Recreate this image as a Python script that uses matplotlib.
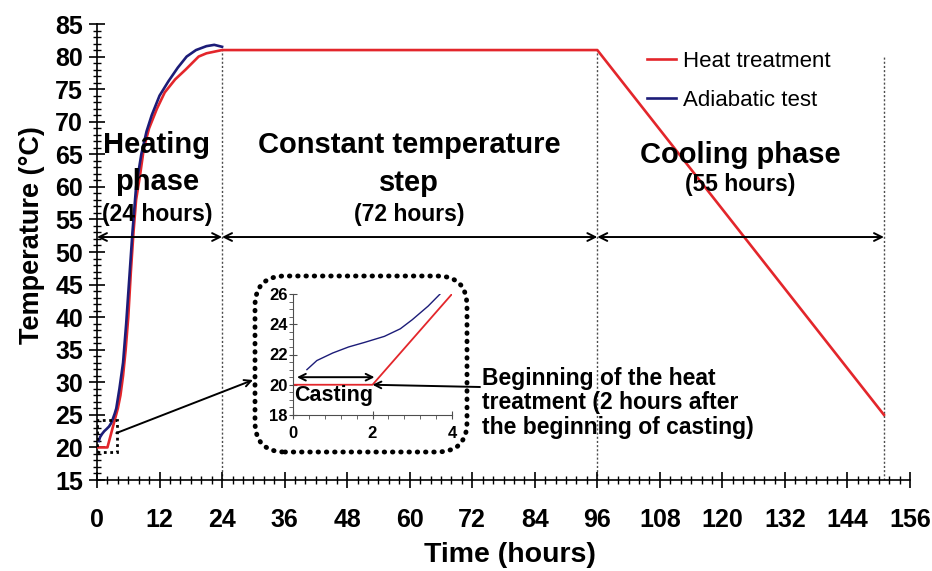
import numpy as np
import matplotlib
matplotlib.use("Agg")
import matplotlib.pyplot as plt
from matplotlib.patches import FancyBboxPatch, Rectangle
from matplotlib.ticker import MultipleLocator

plt.rcParams['font.family'] = ['Liberation Sans', 'DejaVu Sans']

# heat treatment curve (hours, degC)
heat_t = [0, 2, 4, 4.5, 5, 5.5, 6, 6.5, 7, 7.5, 8.3, 9, 10, 11.5, 13, 15, 17, 19.5, 21, 24, 96, 151]
heat_T = [20, 20, 26, 28, 31, 35, 40, 47, 53, 58, 62, 66, 69, 72, 74.5, 76.5, 78, 80, 80.5, 81, 81, 25]

# adiabatic test curve
adia_t = [0.35, 0.6, 1.0, 1.4, 1.8, 2.3, 2.7, 3.0, 3.4, 3.7, 4.3, 5.0, 5.6, 6.2, 6.8, 7.5, 8.5,
          9.5, 10.5, 12, 13.7, 15.5, 17.2, 19, 21, 22.5, 24]
adia_T = [21.0, 21.6, 22.1, 22.5, 22.8, 23.2, 23.7, 24.3, 25.2, 26.0, 29, 33, 39, 46, 53, 60, 65,
          68.5, 71, 74, 76.2, 78.3, 80, 81, 81.6, 81.8, 81.5]

phase_bounds = [0, 24, 96, 151]
bound_top = [81, 81, 80]
arrow_level = 52.3

red = '#e3262b'
blue = '#1c1c78'

fig = plt.figure(figsize=(9.32, 5.71), dpi=100)
ax = fig.add_axes([97/932, 1-480/571, 813/932, 456/571])

for x, top in zip(phase_bounds[1:], bound_top):
    ax.plot([x, x], [15, top], color='0.3', lw=1, ls=(0, (1.5, 1.5)), zorder=1)

ax.plot(heat_t, heat_T, color=red, lw=1.9, label='Heat treatment', zorder=3)
ax.plot(adia_t, adia_T, color=blue, lw=1.9, label='Adiabatic test', zorder=3)

for a, b in zip(phase_bounds[:-1], phase_bounds[1:]):
    ax.annotate('', xy=(b, arrow_level), xytext=(a, arrow_level),
                arrowprops=dict(arrowstyle='<->', color='black', lw=1.4,
                                shrinkA=0, shrinkB=0, mutation_scale=14))

ax.add_patch(Rectangle((0, 19.3), 3.9, 4.9, fill=False, ec='black', lw=2, ls=(0, (1, 1.3)), zorder=4))

ax.set_xlim(0, 156)
ax.set_ylim(15, 85)
ax.xaxis.set_major_locator(MultipleLocator(12))
ax.xaxis.set_minor_locator(MultipleLocator(2))
ax.yaxis.set_major_locator(MultipleLocator(5))
ax.yaxis.set_minor_locator(MultipleLocator(1))
for s in ['top', 'right']:
    ax.spines[s].set_visible(False)
ax.spines['left'].set_linewidth(1.2)
ax.spines['bottom'].set_linewidth(1.2)
ax.tick_params(which='major', direction='inout', length=12, width=1.2, labelsize=18)
ax.tick_params(which='minor', direction='inout', length=6, width=1)
ax.tick_params(axis='x', which='major', pad=14)
ax.tick_params(axis='y', which='major', pad=4)
for lab in ax.get_xticklabels() + ax.get_yticklabels():
    lab.set_fontweight('bold')

ax.set_xlabel('Time (hours)', fontsize=20.5, fontweight='bold')
ax.set_ylabel('Temperature (°C)', fontsize=19.5, fontweight='bold')
ax.xaxis.set_label_coords(0.508, -0.164)
ax.yaxis.set_label_coords(-0.08, 0.537)
ax.xaxis.label.set_va('center')
ax.yaxis.label.set_va('center')

ax.text(11.5, 66.4, 'Heating', ha='center', va='center', fontsize=21, fontweight='bold')
ax.text(11.5, 60.7, 'phase', ha='center', va='center', fontsize=21, fontweight='bold')
ax.text(11.5, 55.7, '(24 hours)', ha='center', va='center', fontsize=16.5, fontweight='bold')
ax.text(59.9, 66.4, 'Constant temperature', ha='center', va='center', fontsize=21, fontweight='bold')
ax.text(59.9, 60.6, 'step', ha='center', va='center', fontsize=21, fontweight='bold')
ax.text(59.9, 55.7, '(72 hours)', ha='center', va='center', fontsize=16.5, fontweight='bold')
ax.text(123.4, 64.9, 'Cooling phase', ha='center', va='center', fontsize=21, fontweight='bold')
ax.text(123.4, 60.3, '(55 hours)', ha='center', va='center', fontsize=16.5, fontweight='bold')

ax.legend(loc='upper left', bbox_to_anchor=(0.652, 0.985), frameon=False, fontsize=16,
          handlelength=1.3, handletextpad=0.3, labelspacing=0.8)

# rounded dotted frame around inset
frame = FancyBboxPatch((2.55, 1.19), 2.12, 1.76, boxstyle='round,pad=0,rounding_size=0.3',
                       transform=fig.dpi_scale_trans, fill=False, ec='black', lw=3.5,
                       ls=(0, (0.1, 1.6)), zorder=5)
frame.set_capstyle('round')
fig.add_artist(frame)

ins = fig.add_axes([293/932, 1-415/571, 159/932, 121/571])
ins.plot(heat_t, heat_T, color=red, lw=1.3)
ins.plot(adia_t, adia_T, color=blue, lw=1.0)
ins.set_xlim(0, 4)
ins.set_ylim(18, 26)
ins.patch.set_alpha(0)
for s in ['top', 'right']:
    ins.spines[s].set_visible(False)
ins.spines['left'].set_color('0.3')
ins.spines['bottom'].set_color('0.3')
ins.xaxis.set_major_locator(MultipleLocator(2))
ins.xaxis.set_minor_locator(MultipleLocator(0.4))
ins.yaxis.set_major_locator(MultipleLocator(2))
ins.yaxis.set_minor_locator(MultipleLocator(0.5))
ins.tick_params(which='major', direction='inout', length=6, width=0.8, labelsize=12, color='0.3')
ins.tick_params(which='minor', direction='out', length=3, width=0.6, color='0.3')
ins.tick_params(axis='x', pad=5)
ins.tick_params(axis='y', pad=1)
for lab in ins.get_xticklabels() + ins.get_yticklabels():
    lab.set_fontweight('bold')
ins.annotate('', xy=(2.05, 20.5), xytext=(0.1, 20.5),
             arrowprops=dict(arrowstyle='<->', color='black', lw=1.4, shrinkA=0, shrinkB=0, mutation_scale=12))
ins.text(0.02, 19.3, 'Casting', ha='left', va='center', fontsize=15.5, fontweight='bold')

# arrow from small rectangle to inset
ax.annotate('', xy=(253/932, 1-380/571), xycoords='figure fraction',
            xytext=(3.7, 22.2), textcoords='data',
            arrowprops=dict(arrowstyle='->', color='black', lw=1.4, shrinkA=0, shrinkB=0, mutation_scale=12))

# arrow from description text to start of heat treatment
ins.annotate('', xy=(2.0, 20.0), xycoords='data',
             xytext=(480/932, 1-387/571), textcoords='figure fraction',
             arrowprops=dict(arrowstyle='->', color='black', lw=1.4, shrinkA=0, shrinkB=0, mutation_scale=12))
fig.text(482/932, 1-403/571, 'Beginning of the heat\ntreatment (2 hours after\nthe beginning of casting)',
         ha='left', va='center', fontsize=16.5, fontweight='bold', linespacing=1.1)

fig.savefig('out.png', dpi=100)
